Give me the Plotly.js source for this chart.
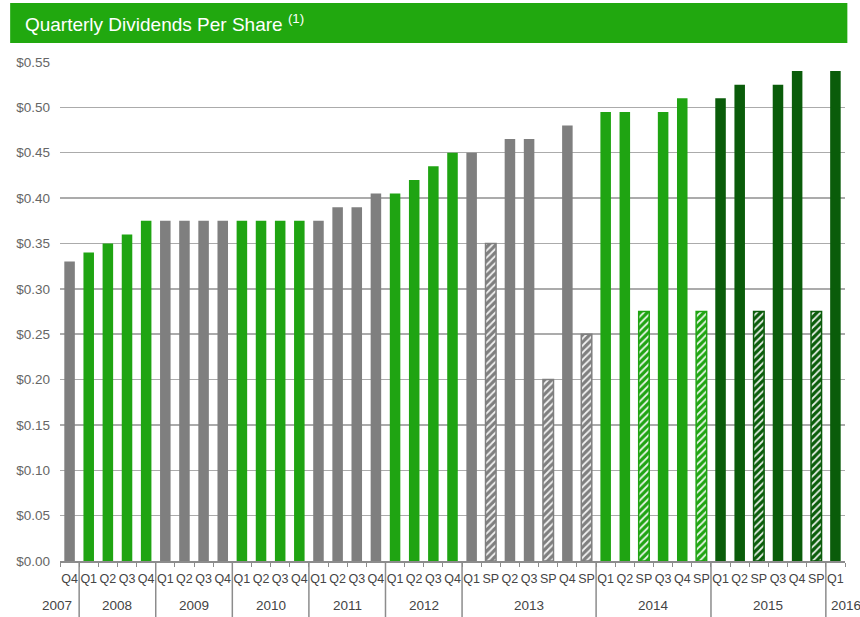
<!DOCTYPE html>
<html><head><meta charset="utf-8">
<script src="https://cdn.plot.ly/plotly-3.0.1.min.js"></script>
<style>html,body{margin:0;padding:0;background:#fff}#chart{width:860px;height:617px}</style>
</head><body><div id="chart"></div>
<script>
const quarterLabels = ['Q4','Q1','Q2','Q3','Q4','Q1','Q2','Q3','Q4','Q1','Q2','Q3','Q4','Q1','Q2','Q3','Q4','Q1','Q2','Q3','Q4','Q1','SP','Q2','Q3','SP','Q4','SP','Q1','Q2','SP','Q3','Q4','SP','Q1','Q2','SP','Q3','Q4','SP','Q1'];
const barYears = ['2007','2008','2008','2008','2008','2009','2009','2009','2009','2010','2010','2010','2010','2011','2011','2011','2011','2012','2012','2012','2012','2013','2013','2013','2013','2013','2013','2013','2014','2014','2014','2014','2014','2014','2015','2015','2015','2015','2015','2015','2016'];
const dividends = [0.33,0.34,0.35,0.36,0.375,0.375,0.375,0.375,0.375,0.375,0.375,0.375,0.375,0.375,0.39,0.39,0.405,0.405,0.42,0.435,0.45,0.45,0.35,0.465,0.465,0.20,0.48,0.25,0.495,0.495,0.275,0.495,0.51,0.275,0.51,0.525,0.275,0.525,0.54,0.275,0.54];
const yearColors = {'2007':'#7f7f7f','2008':'#1fa412','2009':'#7f7f7f','2010':'#1fa412','2011':'#7f7f7f','2012':'#1fa412','2013':'#7f7f7f','2014':'#1fa412','2015':'#0a5c0a','2016':'#0a5c0a'};
const yTickVals = [0,0.05,0.10,0.15,0.20,0.25,0.30,0.35,0.40,0.45,0.50,0.55];

const idx = quarterLabels.map((_, i) => i);
const colors = barYears.map(y => yearColors[y]);
const shapesPattern = quarterLabels.map(q => q === 'SP' ? '/' : '');
const FONT = 'Liberation Sans, Arial, sans-serif';

const trace = {
  type: 'bar', x: idx, y: dividends, width: 0.55,
  marker: {
    color: colors,
    line: {color: colors, width: quarterLabels.map(q => q === 'SP' ? 1.5 : 0)},
    pattern: {shape: shapesPattern, fillmode: 'overlay', fgcolor: '#ffffff', fgopacity: 0.9, size: 5, solidity: 0.35}
  },
  hoverinfo: 'skip'
};

const groups = [];
barYears.forEach((y, i) => {
  if (!groups.length || groups[groups.length-1].year !== y) groups.push({year: y, start: i, end: i});
  else groups[groups.length-1].end = i;
});

const shapes = [{type:'rect', xref:'paper', yref:'paper', x0:-0.0635, x1:1.003, y0:1.038, y1:1.118, fillcolor:'#21a80f', line:{width:0}, layer:'below'}];
groups.forEach((g, k) => {
  if (k > 0) shapes.push({type:'line', xref:'x', yref:'paper', x0:g.start-0.5, x1:g.start-0.5, y0:0, y1:-0.115, line:{color:'#8c8c8c', width:1.5}});
});
const annotations = groups.map((g, k) => {
  const a = {xref:'x', yref:'paper', x:(g.start+g.end)/2, y:-0.089, yanchor:'middle', showarrow:false,
    text:g.year, font:{family:FONT, size:13.5, color:'#444'}};
  if (k === 0 && g.start === g.end) { a.x = g.end + 0.5; a.xanchor = 'right'; a.xshift = -5; }
  if (k === groups.length - 1 && g.start === g.end) { a.x = g.start - 0.5; a.xanchor = 'left'; a.xshift = 3; }
  return a;
});

const minorVals = idx.map(i => i - 0.5).concat([idx.length - 0.5]);

const layout = {
  width: 860, height: 617,
  margin: {l:60, r:15, t:62, b:56},
  paper_bgcolor:'#fff', plot_bgcolor:'#fff',
  showlegend:false, bargap:0.45,
  title: {text:'Quarterly Dividends Per Share <sup>(1)</sup>', xref:'container', yref:'container', x:0.029, xanchor:'left', y:0.96, yanchor:'middle', font:{family:FONT, size:19, color:'#ffffff'}},
  xaxis: {
    range:[-0.5, idx.length-0.5], tickmode:'array', tickvals: idx, ticktext: quarterLabels,
    ticks:'', showgrid:false, zeroline:false, showline:true, linecolor:'#8c8c8c', linewidth:1.5,
    ticklabelstandoff:5,
    tickfont:{family:FONT, size:12.5, color:'#444'}, tickangle:0,
    minor:{tickmode:'array', tickvals:minorVals, ticks:'outside', ticklen:4, tickcolor:'#8c8c8c', tickwidth:1, showgrid:false},
    fixedrange:true
  },
  yaxis: {
    range:[0, 0.55], tickmode:'array', tickvals:yTickVals, tickformat:'$.2f',
    showgrid:true, gridcolor:'#ababab', gridwidth:1.5, zeroline:false, showline:false,
    ticks:'', ticklen:0, ticklabelstandoff:9, tickfont:{family:FONT, size:13.5, color:'#666'},
    fixedrange:true
  },
  shapes, annotations
};
Plotly.newPlot('chart', [trace], layout, {displayModeBar:false, staticPlot:true});
</script></body></html>
